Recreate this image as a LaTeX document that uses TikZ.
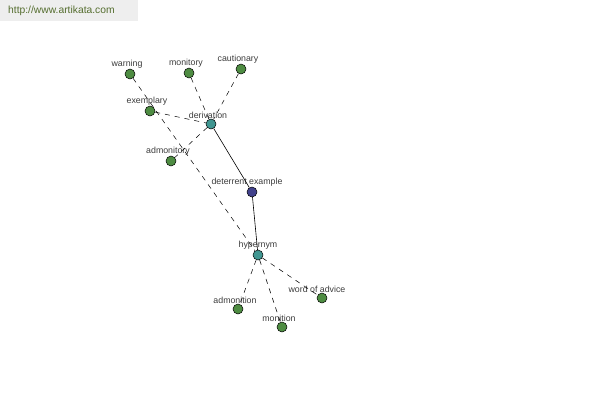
\documentclass[tikz,border=0pt]{standalone}
\usepackage{fontspec}
\setmainfont{Liberation Sans}
\usepackage{tikz}

\definecolor{leafgreen}{RGB}{78,140,66}
\definecolor{reltealc}{RGB}{64,150,145}
\definecolor{headblue}{RGB}{66,66,140}
\definecolor{urlolive}{RGB}{85,110,47}
\definecolor{boxgray}{RGB}{238,238,238}
\definecolor{lblgray}{RGB}{60,60,60}

\tikzset{
  dot/.style={circle, draw=black, line width=0.5pt, minimum size=10pt, inner sep=0pt},
  leaf/.style={dot, fill=leafgreen},
  rel/.style={dot, fill=reltealc},
  head/.style={dot, fill=headblue},
  lbl/.style={text=lblgray, font=\fontsize{8.8}{10}\selectfont, inner sep=0.3pt, xshift=-3pt},
  link/.style={line width=0.5pt, dash pattern=on 5pt off 5pt},
  tie/.style={line width=0.6pt}
}

\begin{document}
\begin{tikzpicture}[x=1pt, y=-1pt]

\useasboundingbox (0, 0) rectangle (600, 400);

% draw url box
\fill[boxgray] (0, 0) rectangle (138, 21);
\node[text=urlolive, font=\fontsize{10.3}{12}\selectfont, anchor=west, inner sep=0pt] (url) at (8, 11) {http://www.artikata.com};

% draw nodes
\node[head, label={[lbl, xshift=-2pt]above:deterrent example}] (deterrent) at (252, 192) {};
\node[rel, label={[lbl]above:derivation}] (derivation) at (211, 124) {};
\node[rel, label={[lbl, xshift=3pt]above:hypernym}] (hypernym) at (258, 255) {};

\node[leaf, label={[lbl]above:warning}] (warning) at (130, 74) {};
\node[leaf, label={[lbl]above:monitory}] (monitory) at (189, 73) {};
\node[leaf, label={[lbl]above:cautionary}] (cautionary) at (241, 69) {};
\node[leaf, label={[lbl]above:exemplary}] (exemplary) at (150, 111) {};
\node[leaf, label={[lbl]above:admonitory}] (admonitory) at (171, 161) {};
\node[leaf, label={[lbl]above:admonition}] (admonition) at (238, 309) {};
\node[leaf, label={[lbl]above:monition}] (monition) at (282, 327) {};
\node[leaf, label={[lbl, xshift=-2pt]above:word of advice}] (advice) at (322, 298) {};

% draw solid ties
\draw[tie] (derivation) -- (deterrent);
\draw[tie] (deterrent) -- (hypernym);

% draw dashed links
\draw[link] (exemplary) -- (derivation);
\draw[link] (monitory) -- (derivation);
\draw[link] (cautionary) -- (derivation);
\draw[link] (derivation) -- (admonitory);
\draw[link] (warning) -- (hypernym);
\draw[link] (hypernym) -- (admonition);
\draw[link] (hypernym) -- (monition);
\draw[link] (hypernym) -- (advice);

\end{tikzpicture}
\end{document}
